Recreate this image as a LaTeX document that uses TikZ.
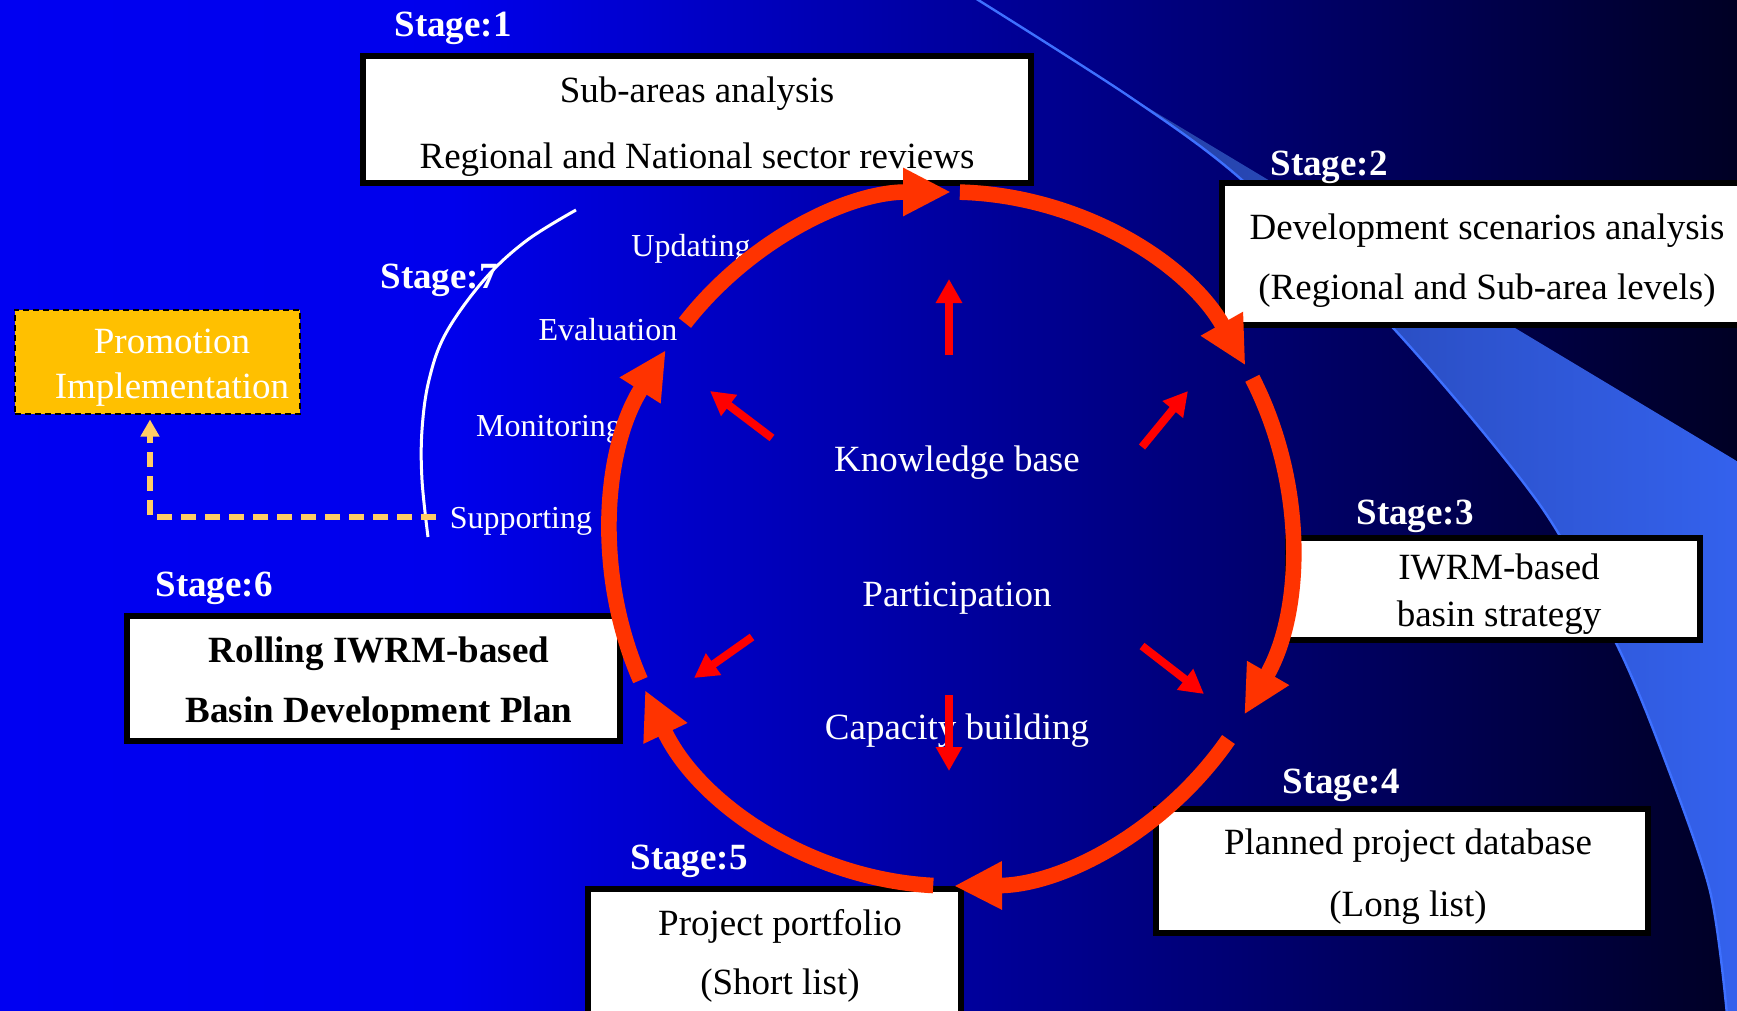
\documentclass[tikz,border=0pt]{standalone}
\usepackage{fontspec}
\setmainfont{Liberation Serif}
\usetikzlibrary{arrows.meta}
\definecolor{bgA}{RGB}{0,0,242}
\definecolor{bgB}{RGB}{0,0,236}
\definecolor{bgC}{RGB}{0,0,150}
\definecolor{bgD}{RGB}{0,0,36}
\pgfdeclarehorizontalshading{bgshade}{100bp}{color(0bp)=(bgA); color(25bp)=(bgA); color(38bp)=(bgB); color(54bp)=(bgC); color(75bp)=(bgD); color(100bp)=(bgD)}
\definecolor{bandL}{RGB}{36,64,165}
\definecolor{bandR}{RGB}{52,98,238}
\definecolor{bandEdge}{RGB}{62,112,255}
\definecolor{ringred}{RGB}{255,51,0}
\definecolor{arrred}{RGB}{255,0,0}
\definecolor{promo}{RGB}{255,192,0}
\definecolor{dashline}{RGB}{255,204,102}
\begin{document}
\begin{tikzpicture}[x=0.5pt,y=-0.5pt,
  every node/.style={inner sep=0pt, outer sep=0pt},
  stagelbl/.style={text=white, font=\fontsize{18.5}{22}\selectfont\bfseries},
  stagebox/.style={draw=black, line width=3pt, fill=white},
  boxtext/.style={align=center, text=black},
  promobox/.style={draw=black, line width=1pt, dash pattern=on 3pt off 2pt, fill=promo},
  ring/.style={draw=ringred, line width=7.8pt, -{Triangle[length=24pt,width=22.5pt]}},
  spoke/.style={draw=arrred, line width=4pt, -{Triangle[length=12pt,width=12.5pt]}},
  cyc/.style={text=white, font=\fontsize{16}{19}\selectfont},
  core/.style={text=white, font=\fontsize{18.5}{22}\selectfont},
]
% background
\shade[shading=bgshade] (0,0) rectangle (1737,1011);
\useasboundingbox (0,0) rectangle (1737,1011);
% light band
\shade[left color=bandL, right color=bandR] plot[smooth, tension=0.5] coordinates {(1130,97) (1242,180) (1395,330) (1540,505) (1617,645) (1663,755) (1710,891) (1727,1015)} -- (1745,1015) -- (1745,466) -- cycle;
\draw[bandEdge, line width=1.2pt] plot[smooth, tension=0.5] coordinates {(975,-2) (1130,97) (1242,180) (1395,330) (1540,505) (1617,645) (1663,755) (1710,891) (1727,1015)};

% stage boxes
\node[stagebox, minimum width=334pt, minimum height=63.5pt] (b1) at (697,119.5) {};
\node[stagebox, minimum width=262pt, minimum height=71pt] (b2) at (1484,254) {};
\node[stagebox, minimum width=206pt, minimum height=51pt] (b3) at (1494,589) {};
\node[stagebox, minimum width=246pt, minimum height=62pt] (b4) at (1402,871) {};
\node[stagebox, minimum width=186.5pt, minimum height=66.5pt] (b5) at (774.5,955) {};
\node[stagebox, minimum width=246.5pt, minimum height=62.5pt] (b6) at (373.5,678.5) {};

\node[boxtext, font=\fontsize{18.5}{33}\selectfont] (t1) at (697,127) {Sub-areas analysis\\Regional and National sector reviews};
\node[boxtext, font=\fontsize{18.5}{30}\selectfont] (t2) at (1487,260.5) {Development scenarios analysis\\(Regional and Sub-area levels)};
\node[boxtext, font=\fontsize{18.5}{23.5}\selectfont] (t3) at (1499,594.5) {IWRM-based\\basin strategy};
\node[boxtext, font=\fontsize{18.5}{31}\selectfont] (t4) at (1408,877) {Planned project database\\(Long list)};
\node[boxtext, font=\fontsize{18.5}{29.5}\selectfont] (t5) at (780,955.6) {Project portfolio\\(Short list)};
\node[boxtext, font=\fontsize{18.5}{30}\selectfont\bfseries] (t6) at (379,684) {Rolling IWRM-based\\Basin Development Plan};

% stage labels
\node[stagelbl] (s1) at (453,28) {Stage:1};
\node[stagelbl] (s2) at (1329,167) {Stage:2};
\node[stagelbl] (s3) at (1415,516) {Stage:3};
\node[stagelbl] (s4) at (1341,785) {Stage:4};
\node[stagelbl] (s5) at (689,861) {Stage:5};
\node[stagelbl] (s6) at (214,588) {Stage:6};
\node[stagelbl] (s7) at (439,280) {Stage:7};

% promotion box
\node[promobox, minimum width=142.5pt, minimum height=52pt] (prom) at (157,361.5) {};
\node[text=white, align=center, font=\fontsize{18.5}{22.5}\selectfont] (promtxt) at (172,367.5) {Promotion\\Implementation};

% stage 7 cycle words
\node[cyc] (upd) at (691,249) {Updating};
\node[cyc] (eval) at (608,330) {Evaluation};
\node[cyc] (mon) at (549,429) {Monitoring};
\node[cyc] (sup) at (521,521) {Supporting};

% white arc
\draw[white, line width=1.5pt] plot[smooth, tension=0.6] coordinates {(576,210) (526,241) (484,280) (446,333) (429,380) (422,430) (422,480) (428,537)};

% dashed arrow to promotion box
\coordinate (dA) at (436,517);
\draw[dashline, line width=3pt, dash pattern=on 7.5pt off 4.5pt, -{Triangle[length=8.5pt,width=9pt]}] (dA) -| ([xshift=-3.5pt, yshift=-3pt]prom.south);

% core texts
\node[core] (kb) at (957,463) {Knowledge base};
\node[core] (part) at (957,598) {Participation};
\node[core] (cap) at (957,731) {Capacity building};

% ring
\coordinate (ctr) at (951,539);
\draw[ring] ([shift={(ctr)}]-141.5:340 and 347) arc[start angle=-141.5, end angle=-90, x radius=340, y radius=347];
\draw[ring] ([shift={(ctr)}]-88.5:340 and 347) arc[start angle=-88.5, end angle=-30, x radius=340, y radius=347];
\draw[ring] ([shift={(ctr)}]-27.6:340 and 347) arc[start angle=-27.6, end angle=30.4, x radius=340, y radius=347];
\draw[ring] ([shift={(ctr)}]35.3:340 and 347) arc[start angle=35.3, end angle=89.5, x radius=340, y radius=347];
\draw[ring] ([shift={(ctr)}]93:340 and 347) arc[start angle=93, end angle=154.2, x radius=340, y radius=347];
\draw[ring] ([shift={(ctr)}]156:340 and 347) arc[start angle=156, end angle=213, x radius=340, y radius=347];

% spokes
\coordinate (u0) at (949,355); \coordinate (u1) at (949,279);
\coordinate (ul0) at (772,438); \coordinate (ul1) at (710,391);
\coordinate (ur0) at (1142,447); \coordinate (ur1) at (1188,391);
\coordinate (dl0) at (752,637); \coordinate (dl1) at (694,678);
\coordinate (dr0) at (1142,646); \coordinate (dr1) at (1204,694);
\coordinate (d0) at (949,695); \coordinate (d1) at (949,771);
\draw[spoke] (u0) -- (u1);
\draw[spoke] (ul0) -- (ul1);
\draw[spoke] (ur0) -- (ur1);
\draw[spoke] (dl0) -- (dl1);
\draw[spoke] (dr0) -- (dr1);
\draw[spoke] (d0) -- (d1);
\end{tikzpicture}
\end{document}
